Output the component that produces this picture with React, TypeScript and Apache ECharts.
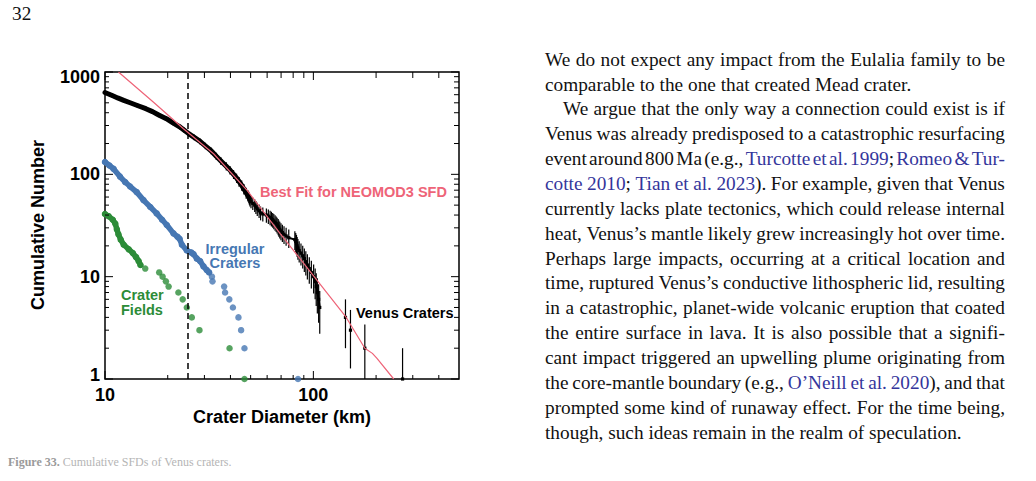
import React, { useEffect, useRef } from 'react';
import * as echarts from 'echarts';

// ---------- chart data ----------
// Venus craters: [diameter km, cumulative number]
const venusCraters: [number, number][] = [
  [10.0, 630], [10.4, 610], [10.9, 585], [11.5, 558], [12.3, 528], [13.3, 498], [14.4, 468],
  [15.7, 438], [16.9, 410], [18.1, 380], [19.7, 350], [21.1, 320], [22.9, 290], [24.0, 270],
  [25.2, 250], [26.8, 230], [28.6, 210], [30.3, 190], [32.3, 170], [34.2, 150], [36.0, 135],
  [38.2, 120], [39.8, 110], [41.4, 100], [42.8, 92], [44.0, 85], [45.3, 78], [46.4, 72],
  [47.6, 66], [48.5, 62], [49.0, 60], [49.3, 58], [49.6, 56], [50.2, 54], [51.2, 52],
  [52.3, 50], [53.0, 48], [53.8, 46], [54.9, 44], [55.8, 42], [57.2, 41], [59.5, 40],
  [60.8, 39], [62.0, 38], [62.9, 37], [63.8, 36], [64.6, 35], [65.5, 34], [66.3, 33],
  [67.0, 32], [67.8, 31], [68.3, 30], [69.0, 29], [69.9, 28], [71.0, 27], [72.3, 26],
  [74.0, 25], [76.2, 24], [81.5, 23], [82.3, 22], [83.0, 21], [83.6, 20], [84.3, 19],
  [85.5, 18], [87.2, 17], [88.9, 16], [90.5, 15], [92.0, 14], [93.6, 13], [95.6, 12],
  [97.8, 11], [100.3, 10], [102.0, 9], [103.2, 8], [104.5, 7], [106.0, 6], [107.3, 5],
];
const venusLargest: [number, number][] = [[142.6, 4], [150.7, 3], [176.6, 2], [268, 1]];

const irregularDense: [number, number][] = [
  [10.0, 132], [10.5, 122], [11.0, 113], [11.8, 95], [12.5, 84], [13.2, 76], [14.2, 67],
  [15.3, 56], [16.5, 48], [17.7, 41.5], [18.8, 36], [19.8, 32], [21.3, 26.5], [22.3, 24.5],
  [22.8, 23.5], [23.4, 20.5], [24.7, 18], [26.0, 17.2], [26.6, 16.6], [27.6, 15], [28.6, 14.2],
  [29.7, 12.6], [30.8, 11.6], [31.6, 11],
];
const irregularSparse: [number, number][] = [
  [32.6, 10], [32.8, 9], [37.3, 8], [37.7, 7], [39.5, 6], [41.1, 5], [43.7, 4], [45.0, 3],
  [46.7, 2], [84.4, 1],
];

const fieldsDense: [number, number][] = [
  [10.0, 41], [10.4, 39], [10.9, 36], [11.2, 33], [11.4, 29], [11.6, 26], [11.9, 23],
  [12.3, 20.5], [13.0, 18.5], [13.6, 17], [14.1, 15.5], [14.5, 14.2], [14.8, 13],
];
const fieldsSparse: [number, number][] = [
  [15.6, 12], [18.2, 11], [18.9, 10], [19.6, 9], [20.2, 8], [22.5, 7], [23.6, 6], [24.7, 5],
  [26.1, 4], [28.4, 3], [39.6, 2], [46.7, 1],
];

const neomodFit: [number, number][] = [
  [11.6, 1000], [17.1, 507], [23.8, 279], [33.2, 159], [48.0, 70], [69.3, 26.4], [104, 9.25],
  [142.6, 4.1], [176.6, 2.0], [192, 1.78], [202, 1.59], [243, 1.0],
];

const cutoffDiameter = 25;

const xMin = 10;
const xMax = 500;
const yMin = 1;
const yMax = 1000;
const xTickLabels = [10, 100];
const yTickLabels = [1, 10, 100, 1000];
const xMajorTicks = [10, 100];
const xMinorTicks = [20, 30, 40, 50, 60, 70, 80, 90, 200, 300, 400];
const yMajorTicks = [1, 10, 100, 1000];
const yMinorTicks = [2, 3, 4, 5, 6, 7, 8, 9, 20, 30, 40, 50, 60, 70, 80, 90, 200, 300, 400, 500, 600, 700, 800, 900];

// ---------- page text ----------
const bodyLines: { text: string; indent: number; last: boolean }[] = [
  { text: 'We do not expect any impact from the Eulalia family to be', indent: 0, last: false },
  { text: 'comparable to the one that created Mead crater.', indent: 0, last: true },
  { text: 'We argue that the only way a connection could exist is if', indent: 18, last: false },
  { text: 'Venus was already predisposed to a catastrophic resurfacing', indent: 0, last: false },
  { text: 'event around 800 Ma (e.g., {Turcotte et al. 1999}; {Romeo & Tur-}', indent: 0, last: false },
  { text: '{cotte 2010}; {Tian et al. 2023}). For example, given that Venus', indent: 0, last: false },
  { text: 'currently lacks plate tectonics, which could release internal', indent: 0, last: false },
  { text: 'heat, Venus\u2019s mantle likely grew increasingly hot over time.', indent: 0, last: false },
  { text: 'Perhaps large impacts, occurring at a critical location and', indent: 0, last: false },
  { text: 'time, ruptured Venus\u2019s conductive lithospheric lid, resulting', indent: 0, last: false },
  { text: 'in a catastrophic, planet-wide volcanic eruption that coated', indent: 0, last: false },
  { text: 'the entire surface in lava. It is also possible that a signifi-', indent: 0, last: false },
  { text: 'cant impact triggered an upwelling plume originating from', indent: 0, last: false },
  { text: 'the core-mantle boundary (e.g., {O\u2019Neill et al. 2020}), and that', indent: 0, last: false },
  { text: 'prompted some kind of runaway effect. For the time being,', indent: 0, last: false },
  { text: 'though, such ideas remain in the realm of speculation.', indent: 0, last: true },
];

const SANS = '"Liberation Sans", Arial, Helvetica, sans-serif';
const SERIF = '"Liberation Serif", "Times New Roman", Times, serif';
const RED = '#ee6478';
const BLUE = '#4677b3';
const GREEN = '#2c8c38';
const LINK = '#34359b';

type Seg = { t: string; blue: boolean };
function parseLine(text: string): Seg[][] {
  const words: Seg[][] = [];
  let cur: Seg[] = [];
  let blue = false;
  let buf = '';
  const flush = () => {
    if (buf) { cur.push({ t: buf, blue }); buf = ''; }
  };
  for (const ch of text) {
    if (ch === '{') { flush(); blue = true; }
    else if (ch === '}') { flush(); blue = false; }
    else if (ch === ' ') { flush(); if (cur.length) words.push(cur); cur = []; }
    else buf += ch;
  }
  flush();
  if (cur.length) words.push(cur);
  return words;
}

const isTick = (list: number[], v: number) => list.find((l) => Math.abs(l - v) < 1e-6 * l);

function buildOption(): any {
  const labelBase = { color: '#000', fontFamily: SANS, fontWeight: 'bold', fontSize: 18 };
  const thick = venusCraters.filter((p) => p[1] >= 58);
  const thin = venusCraters.filter((p) => p[1] <= 60);
  const xTickData = [...xMinorTicks.map((v) => [v, yMin, 0]), ...xMajorTicks.map((v) => [v, yMin, 1])];
  const yTickData = [...yMinorTicks.map((v) => [xMin, v, 0]), ...yMajorTicks.map((v) => [xMin, v, 1])];
  const tickStyle = { stroke: '#000', lineWidth: 1 };
  return {
    animation: false,
    backgroundColor: 'transparent',
    grid: {
      left: 105, top: 72, width: 354, height: 307, show: true,
      borderColor: '#000', borderWidth: 1.5, backgroundColor: 'transparent',
    },
    xAxis: {
      type: 'log', logBase: 10, min: xMin, max: xMax,
      axisLine: { show: false }, axisTick: { show: false }, splitLine: { show: false },
      axisLabel: {
        ...labelBase, margin: 7,
        formatter: (v: number) => { const t = isTick(xTickLabels, v); return t !== undefined ? String(t) : ''; },
      },
    },
    yAxis: {
      type: 'log', logBase: 10, min: yMin, max: yMax,
      axisLine: { show: false }, axisTick: { show: false }, splitLine: { show: false },
      axisLabel: {
        ...labelBase, margin: 5,
        formatter: (v: number) => {
          const t = isTick(yTickLabels, v);
          if (t === undefined) return '';
          if (t === yMax) return '{top|' + t + '}';
          if (t === yMin) return '{bot|' + t + '}';
          return String(t);
        },
        rich: {
          top: { ...labelBase, padding: [9, 0, 0, 0] },
          bot: { ...labelBase, padding: [0, 0, 8, 0] },
        },
      },
    },
    series: [
      {
        name: 'Venus thick', type: 'line', data: thick, showSymbol: false, z: 2,
        lineStyle: { color: '#000', width: 5, join: 'round', cap: 'round' },
        markLine: {
          silent: true, symbol: 'none', label: { show: false },
          lineStyle: { color: '#000', type: [6, 4], width: 1.5 },
          data: [{ xAxis: cutoffDiameter }],
        },
      },
      {
        name: 'Venus thin', type: 'line', data: thin, showSymbol: false, z: 2,
        lineStyle: { color: '#000', width: 2, join: 'round' },
      },
      {
        name: 'Venus error bars', type: 'custom', z: 3,
        data: [...venusCraters, ...venusLargest],
        encode: { x: 0, y: 1 },
        renderItem: (_p: any, api: any) => {
          const d = api.value(0);
          const n = api.value(1);
          const e = Math.sqrt(n);
          const lo = Math.max(n - e, yMin);
          const hi = Math.min(n + e, yMax);
          const a = api.coord([d, lo]);
          const b = api.coord([d, hi]);
          const c = api.coord([d, n]);
          return {
            type: 'group',
            children: [
              { type: 'line', shape: { x1: a[0], y1: a[1], x2: b[0], y2: b[1] }, style: { stroke: '#000', lineWidth: 1.2 } },
              { type: 'rect', shape: { x: c[0] - 1.6, y: c[1] - 1.6, width: 3.2, height: 3.2 }, style: { fill: '#000' } },
            ],
          };
        },
      },
      {
        name: 'Irregular dense', type: 'line', data: irregularDense, z: 4,
        symbol: 'circle', symbolSize: 6.5, showSymbol: true,
        itemStyle: { color: BLUE }, lineStyle: { color: BLUE, width: 5.5, join: 'round', cap: 'round' },
      },
      {
        name: 'Irregular sparse', type: 'scatter', data: irregularSparse, z: 4,
        symbol: 'circle', symbolSize: 6.5, itemStyle: { color: BLUE },
      },
      {
        name: 'Fields dense', type: 'line', data: fieldsDense, z: 4,
        symbol: 'circle', symbolSize: 6.5, showSymbol: true,
        itemStyle: { color: GREEN }, lineStyle: { color: GREEN, width: 5.5, join: 'round', cap: 'round' },
      },
      {
        name: 'Fields sparse', type: 'scatter', data: fieldsSparse, z: 4,
        symbol: 'circle', symbolSize: 6.5, itemStyle: { color: GREEN },
      },
      {
        name: 'NEOMOD3 fit', type: 'line', data: neomodFit, showSymbol: false, z: 6,
        lineStyle: { color: RED, width: 1.2 },
      },
      {
        name: 'x ticks', type: 'custom', z: 10, data: xTickData, encode: { x: 0, y: 1 },
        renderItem: (_p: any, api: any) => {
          const v = api.value(0);
          const major = api.value(2) === 1;
          const b = api.coord([v, yMin]);
          const t = api.coord([v, yMax]);
          const lb = major ? 8 : 4;
          const lt = major ? 8 : 6;
          return {
            type: 'group',
            children: [
              { type: 'line', shape: { x1: b[0], y1: b[1], x2: b[0], y2: b[1] - lb }, style: tickStyle },
              { type: 'line', shape: { x1: t[0], y1: t[1], x2: t[0], y2: t[1] + lt }, style: tickStyle },
            ],
          };
        },
      },
      {
        name: 'y ticks', type: 'custom', z: 10, data: yTickData, encode: { x: 0, y: 1 },
        renderItem: (_p: any, api: any) => {
          const v = api.value(1);
          const major = api.value(2) === 1;
          const l = api.coord([xMin, v]);
          const r = api.coord([xMax, v]);
          const ll = major ? 8 : 4;
          const lr = major ? 8 : 5;
          return {
            type: 'group',
            children: [
              { type: 'line', shape: { x1: l[0], y1: l[1], x2: l[0] + ll, y2: l[1] }, style: tickStyle },
              { type: 'line', shape: { x1: r[0], y1: r[1], x2: r[0] - lr, y2: r[1] }, style: tickStyle },
            ],
          };
        },
      },
    ],
    graphic: [
      {
        type: 'text', x: 260, y: 192, z: 20,
        style: { text: 'Best Fit for NEOMOD3 SFD', fontFamily: SANS, fontWeight: 'bold', fontSize: 14.5, fill: RED, align: 'left', verticalAlign: 'middle' },
      },
      {
        type: 'text', x: 235, y: 256, z: 20,
        style: { text: 'Irregular\nCraters', fontFamily: SANS, fontWeight: 'bold', fontSize: 14.5, lineHeight: 14.5, fill: BLUE, align: 'center', verticalAlign: 'middle' },
      },
      {
        type: 'text', x: 121, y: 302.5, z: 20,
        style: { text: 'Crater\nFields', fontFamily: SANS, fontWeight: 'bold', fontSize: 14.5, lineHeight: 15, fill: GREEN, align: 'left', verticalAlign: 'middle' },
      },
      {
        type: 'text', x: 356, y: 313.3, z: 20,
        style: { text: 'Venus Craters', fontFamily: SANS, fontWeight: 'bold', fontSize: 14.5, fill: '#000', align: 'left', verticalAlign: 'middle' },
      },
      {
        type: 'text', x: 282, y: 417.3, z: 20,
        style: { text: 'Crater Diameter (km)', fontFamily: SANS, fontWeight: 'bold', fontSize: 18, fill: '#000', align: 'center', verticalAlign: 'middle' },
      },
      {
        type: 'text', x: 37.5, y: 225, rotation: Math.PI / 2, z: 20,
        style: { text: 'Cumulative Number', fontFamily: SANS, fontWeight: 'bold', fontSize: 18, fill: '#000', align: 'center', verticalAlign: 'middle' },
      },
    ],
  };
}

function Segs({ segs }: { segs: Seg[] }) {
  return (
    <span>
      {segs.map((s, i) => (
        <span key={i} style={{ color: s.blue ? LINK : '#111' }}>{s.t}</span>
      ))}
    </span>
  );
}

export default function App() {
  const ref = useRef<HTMLDivElement>(null);
  useEffect(() => {
    const chart = echarts.init(ref.current!, null, { renderer: 'svg' });
    chart.setOption(buildOption());
    return () => chart.dispose();
  }, []);

  const LH = 24.85;
  const fontSize = 19.3;
  return (
    <div style={{ position: 'absolute', left: 0, top: 0, width: 1036, height: 481, background: '#fff', overflow: 'hidden' }}>
      <div ref={ref} style={{ position: 'absolute', left: 0, top: 0, width: 500, height: 481 }} />
      <div style={{ position: 'absolute', left: 12, top: 1.8, fontFamily: SERIF, fontSize, lineHeight: LH + 'px', color: '#111', zIndex: 2 }}>32</div>
      {bodyLines.map((ln, k) => {
        const words = parseLine(ln.text);
        const top = 60.2 + LH * k - LH / 2;
        const left = 545 + ln.indent;
        const width = 460 - ln.indent;
        const common: React.CSSProperties = {
          position: 'absolute', left, top, width, height: LH, fontFamily: SERIF, fontSize,
          lineHeight: LH + 'px', color: '#111', whiteSpace: 'pre',
        };
        if (ln.last) {
          return (
            <div key={k} style={common}>
              {words.map((w, i) => (
                <React.Fragment key={i}>{i > 0 ? ' ' : ''}<Segs segs={w} /></React.Fragment>
              ))}
            </div>
          );
        }
        return (
          <div key={k} style={{ ...common, display: 'flex', justifyContent: 'space-between' }}>
            {words.map((w, i) => <Segs key={i} segs={w} />)}
          </div>
        );
      })}
      <div style={{ position: 'absolute', left: 8, top: 455, fontFamily: SERIF, fontSize: 12, lineHeight: '14px', color: '#b5b5b5', whiteSpace: 'pre' }}>
        <span style={{ fontWeight: 'bold', color: '#9a9a9a' }}>Figure 33.</span> Cumulative SFDs of Venus craters.
      </div>
    </div>
  );
}
